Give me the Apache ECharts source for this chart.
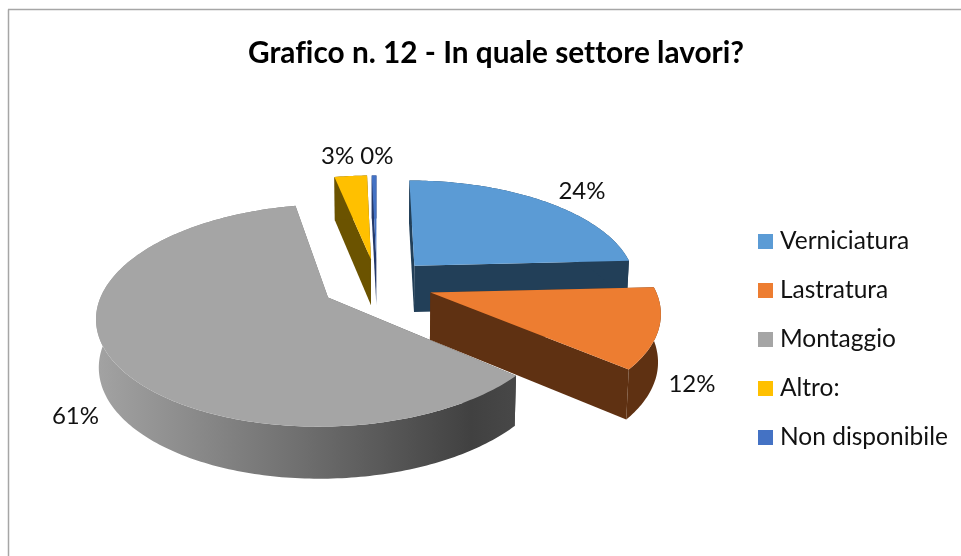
<!DOCTYPE html>
<html><head><meta charset="utf-8">
<style>html,body{margin:0;padding:0;background:#fff}#c{width:961px;height:556px}</style>
<script src="https://cdn.jsdelivr.net/npm/echarts@6/dist/echarts.min.js"></script>
</head><body><div id="c"></div>
<script>
const titleText = 'Grafico n. 12 - In quale settore lavori?';
const categories = ['Verniciatura', 'Lastratura', 'Montaggio', 'Altro:', 'Non disponibile'];
const values = [24.2, 12.0, 60.6, 2.8, 0.4];

const topColors = ['#5B9BD5', '#ED7D31', '#A5A5A5', '#FFC000', '#4472C4'];
const wallColors = ['#223F58', '#5F3112', null, '#6B5300', '#24396B'];
const layers = [2, 4, 3, 2, 2];
const labelShift = [[23, -3], [4, 51], [-6, 51], [-11, -11], [3, -11]];

const view = { cx: 377, cy: 284, rx: 223, ry: 104, k: 0.158, depth: 47, lowSqueeze: 0.99, explode: 0.25, startDeg: 0, font: '24px Lato' };

// Keep the "fi" in the title as two letters, like the reference.
const getCtx = HTMLCanvasElement.prototype.getContext;
HTMLCanvasElement.prototype.getContext = function () {
  const ctx = getCtx.apply(this, arguments);
  if (ctx && 'textRendering' in ctx) ctx.textRendering = 'optimizeSpeed';
  return ctx;
};

const total = values.reduce((a, b) => a + b, 0);
let acc = 0;
const spans = values.map(v => {
  const a0 = view.startDeg + acc / total * 360;
  acc += v;
  return [a0, view.startDeg + acc / total * 360];
});
const rad = d => d * Math.PI / 180;
function project(X, Y, low) {
  const s = 1 / (1 + view.k * Y);
  const xs = low ? view.lowSqueeze : 1;
  const drop = low ? view.depth * (1 + (s - 1) / 2) : 0;
  return [view.cx + view.rx * X * s * xs, view.cy - view.ry * Y * s + drop];
}
function render(i) {
  const [a0, a1] = spans[i];
  const m = rad((a0 + a1) / 2);
  const ex = view.explode * Math.sin(m), ey = view.explode * Math.cos(m);
  const rimAt = (deg, low, r = 1) => project(ex + r * Math.sin(rad(deg)), ey + r * Math.cos(rad(deg)), low);
  const n = Math.max(2, Math.ceil(a1 - a0));
  const topArc = [], lowArc = [];
  for (let j = 0; j <= n; j++) {
    const d = a0 + (a1 - a0) * j / n;
    topArc.push(rimAt(d, false));
    lowArc.push(rimAt(d, true));
  }
  const apexTop = project(ex, ey, false), apexLow = project(ex, ey, true);
  const wallFill = wallColors[i] || {
    type: 'linear', x: 96, y: 0, x2: 513, y2: 0, global: true,
    colorStops: [{ offset: 0, color: '#A3A3A3' }, { offset: 0.5, color: '#6E6E6E' }, { offset: 0.9, color: '#414141' }, { offset: 1, color: '#474747' }]
  };
  const poly = (points, fill) => ({ type: 'polygon', shape: { points }, style: { fill } });
  const children = [
    poly([apexTop, topArc[0], lowArc[0], apexLow], wallFill),
    poly([apexTop, topArc[n], lowArc[n], apexLow], wallFill),
    poly(topArc.concat(lowArc.slice().reverse()), wallFill),
    poly([apexTop].concat(topArc), topColors[i])
  ];
  const anchor = rimAt((a0 + a1) / 2, false, 1.12);
  children.push({
    type: 'text',
    style: {
      text: Math.round(values[i] / total * 100) + '%',
      x: anchor[0] + labelShift[i][0], y: anchor[1] + labelShift[i][1],
      fill: '#111', font: view.font, align: 'center', verticalAlign: 'middle'
    }
  });
  return { type: 'group', children };
}
const chart = echarts.init(document.getElementById('c'), null, { renderer: 'canvas' });
chart.setOption({
  animation: false,
  backgroundColor: '#fff',
  title: { text: titleText, left: 491, top: 33, textAlign: 'center',
    textStyle: { fontFamily: 'Lato', fontSize: 29.8, fontWeight: 'bold', color: '#000' } },
  legend: {
    orient: 'vertical', left: 758, top: 229, icon: 'rect', itemWidth: 15, itemHeight: 15, itemGap: 24,
    selectedMode: false, padding: 0, data: categories,
    textStyle: { fontFamily: 'Lato', fontSize: 24.5, lineHeight: 24.3, color: '#111', padding: [0, 0, 0, 2] }
  },
  graphic: [
    { type: 'line', shape: { x1: 8.5, y1: 9.5, x2: 8.5, y2: 556 }, style: { stroke: '#A6A6A6', lineWidth: 1.5 } },
    { type: 'line', shape: { x1: 8, y1: 9.5, x2: 961, y2: 9.5 }, style: { stroke: '#A6A6A6', lineWidth: 1.5 } }
  ],
  series: categories.map((name, i) => ({
    type: 'custom', name, coordinateSystem: 'none', z: layers[i], silent: true,
    itemStyle: { color: topColors[i] },
    data: [[values[i]]],
    renderItem: () => render(i)
  }))
});
</script></body></html>
